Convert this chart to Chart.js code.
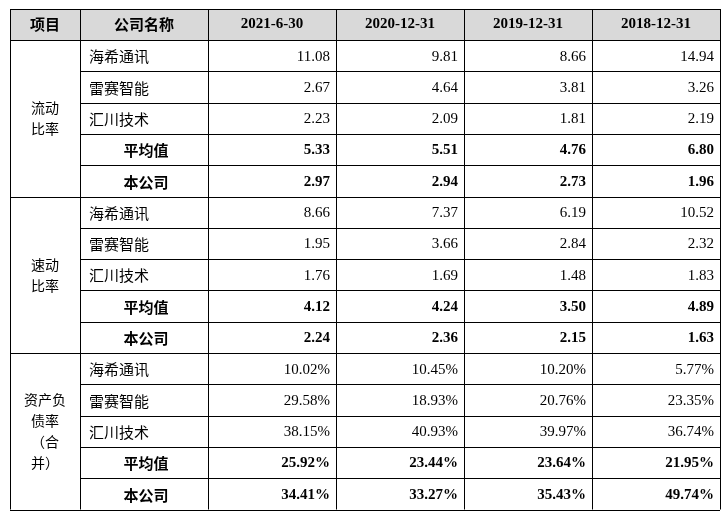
<!DOCTYPE html>
<html><head><meta charset="utf-8">
<script src="https://cdn.jsdelivr.net/npm/chart.js@4"></script>
<style>html,body{margin:0;padding:0;background:#fff}</style>
</head><body>
<canvas id="c" width="728" height="513"></canvas>
<script>
const headers = ["项目", "公司名称", "2021-6-30", "2020-12-31", "2019-12-31", "2018-12-31"];
const groups = [["流动", "比率"], ["速动", "比率"], ["资产负", "债率", "（合", "并）"]];
const companies = ["海希通讯", "雷赛智能", "汇川技术", "平均值", "本公司"];
const currentRatio = [
  ["11.08", "9.81", "8.66", "14.94"],
  ["2.67", "4.64", "3.81", "3.26"],
  ["2.23", "2.09", "1.81", "2.19"],
  ["5.33", "5.51", "4.76", "6.80"],
  ["2.97", "2.94", "2.73", "1.96"]
];
const quickRatio = [
  ["8.66", "7.37", "6.19", "10.52"],
  ["1.95", "3.66", "2.84", "2.32"],
  ["1.76", "1.69", "1.48", "1.83"],
  ["4.12", "4.24", "3.50", "4.89"],
  ["2.24", "2.36", "2.15", "1.63"]
];
const debtRatio = [
  ["10.02%", "10.45%", "10.20%", "5.77%"],
  ["29.58%", "18.93%", "20.76%", "23.35%"],
  ["38.15%", "40.93%", "39.97%", "36.74%"],
  ["25.92%", "23.44%", "23.64%", "21.95%"],
  ["34.41%", "33.27%", "35.43%", "49.74%"]
];
const blocks = [currentRatio, quickRatio, debtRatio];

const colX = [10, 80, 208, 336, 464, 592, 720];
const tableTop = 9, headH = 31, rowH = 31.3;
const cjk = '"Noto Sans CJK SC", sans-serif';
const serif = '"Liberation Serif", "Times New Roman", serif';

const tablePlugin = {
  id: "table",
  afterDraw(chart) {
    const ctx = chart.ctx;
    ctx.save();
    const bottom = tableTop + headH + rowH * 15;
    ctx.fillStyle = "#d9d9d9";
    ctx.fillRect(colX[0], tableTop, colX[6] - colX[0], headH);
    ctx.strokeStyle = "#000";
    ctx.lineWidth = 1;
    ctx.beginPath();
    colX.forEach(x => { ctx.moveTo(x + 0.5, tableTop); ctx.lineTo(x + 0.5, bottom); });
    ctx.moveTo(colX[0], tableTop + 0.5); ctx.lineTo(colX[6], tableTop + 0.5);
    for (let r = 0; r <= 15; r++) {
      const y = Math.round(tableTop + headH + r * rowH) + 0.5;
      const x0 = r % 5 === 0 ? colX[0] : colX[1];
      ctx.moveTo(x0, y); ctx.lineTo(colX[6], y);
    }
    ctx.stroke();
    ctx.fillStyle = "#000";
    ctx.textBaseline = "middle";
    headers.forEach((h, i) => {
      ctx.font = "bold 15px " + (i < 2 ? cjk : serif);
      ctx.textAlign = "center";
      ctx.fillText(h, (colX[i] + colX[i + 1]) / 2, tableTop + headH / 2);
    });
    blocks.forEach((blk, g) => {
      const y0 = tableTop + headH + g * 5 * rowH;
      const lines = groups[g];
      ctx.font = "14px " + cjk;
      ctx.textAlign = "center";
      const lh = 21;
      lines.forEach((t, k) => {
        ctx.fillText(t, (colX[0] + colX[1]) / 2, y0 + 2.5 * rowH + (k - (lines.length - 1) / 2) * lh);
      });
      blk.forEach((row, r) => {
        const yc = y0 + r * rowH + rowH / 2 + 1;
        const bold = r >= 3;
        ctx.font = (bold ? "bold " : "") + "15px " + cjk;
        if (bold) { ctx.textAlign = "center"; ctx.fillText(companies[r], 146, yc); }
        else { ctx.textAlign = "left"; ctx.fillText(companies[r], 89, yc); }
        ctx.font = (bold ? "bold " : "") + "15px " + serif;
        ctx.textAlign = "right";
        row.forEach((v, c) => ctx.fillText(v, colX[c + 3] - 6, yc));
      });
    });
    ctx.restore();
  }
};

new Chart(document.getElementById("c"), {
  type: "bar",
  data: { labels: companies, datasets: [{ data: [] }] },
  options: {
    responsive: false,
    animation: false,
    plugins: { legend: { display: false }, tooltip: { enabled: false } },
    scales: { x: { display: false }, y: { display: false } }
  },
  plugins: [tablePlugin]
});
</script>
</body></html>
